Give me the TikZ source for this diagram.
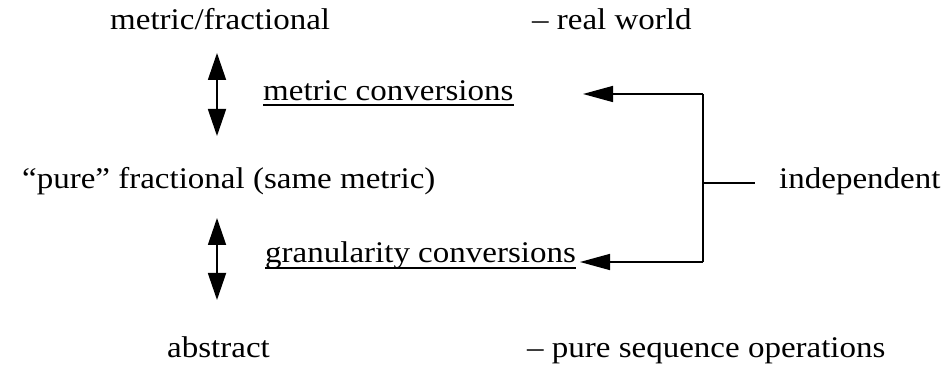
\documentclass[tikz,border=0pt]{standalone}
\usepackage{fontspec}
\setmainfont{Liberation Serif}[FakeStretch=1.1]
\usetikzlibrary{arrows.meta,calc}
\begin{document}
\begin{tikzpicture}[x=1pt,y=-1pt,
  lbl/.style={inner sep=0pt,anchor=base west,font=\fontsize{30}{33}\selectfont},
  dbl/.style={line width=1.8pt,{Triangle[length=27pt,width=18pt]}-{Triangle[length=27pt,width=18pt]}},
  conn/.style={line width=1.5pt},
  tip/.style={conn,-{Triangle[length=30pt,width=16pt]}},
  ul/.style={line width=1.4pt}]
\useasboundingbox (0,0) rectangle (942,371);
\node[lbl] (mf) at (110,30) {metric/fractional};
\node[lbl] (rw) at (532,30) {– real world};
\node[lbl] (mc) at (263,101) {metric conversions};
\node[lbl] (pf) at (22,189) {“pure” fractional (same metric)};
\node[lbl] (ind) at (779,189) {independent};
\node[lbl] (gc) at (265,263) {granularity conversions};
\node[lbl] (ab) at (167,357) {abstract};
\node[lbl] (ps) at (527,357) {– pure sequence operations};
\draw[ul] ($(mc.base west)+(0,4)$) -- ($(mc.base east)+(0,4)$);
\draw[ul] ($(gc.base west)+(0,5)$) -- ($(gc.base east)+(0,5)$);
\coordinate (a1t) at (217,53);
\coordinate (a1b) at (217,136);
\coordinate (a2t) at (217,218);
\coordinate (a2b) at (217,300);
\draw[dbl] (a1t) -- (a1b);
\draw[dbl] (a2t) -- (a2b);
\coordinate (bt) at (703,94);
\coordinate (bb) at (703,262);
\coordinate (bm) at (703,183);
\coordinate (st) at (755,183);
\coordinate (t1) at (583,94);
\coordinate (t2) at (580,262);
\draw[conn] (bt) -- (bb);
\draw[conn] (bm) -- (st);
\draw[tip] (bt) -- (t1);
\draw[tip] (bb) -- (t2);
\end{tikzpicture}
\end{document}
